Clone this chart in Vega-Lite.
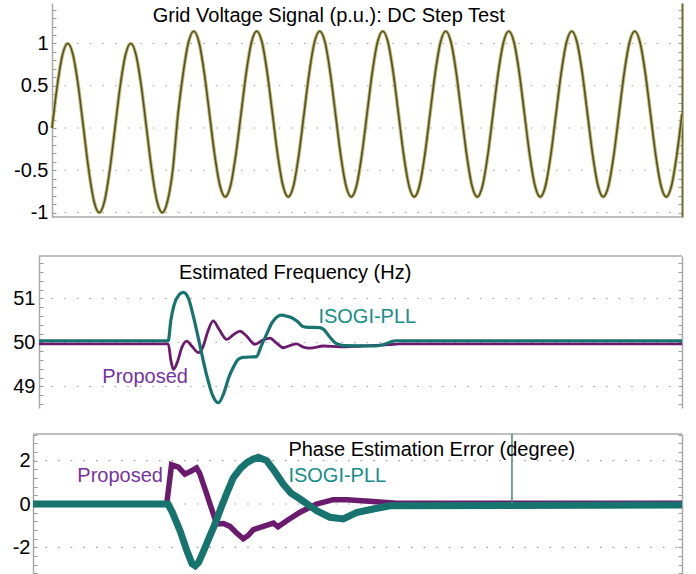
{
  "$schema": "https://vega.github.io/schema/vega-lite/v6.json",
  "padding": {"left": 12, "top": 3, "right": 4, "bottom": 0},
  "spacing": 23,
  "config": {
    "view": {"stroke": null},
    "axis": {"labelFont": "Liberation Sans", "labelFontSize": 20, "labelColor": "#000000", "labelOverlap": false, "labelFlush": false, "domainColor": "#a8a8a8", "domainWidth": 1.5, "tickColor": "#9a9a9a", "tickWidth": 1},
    "text": {"font": "Liberation Sans", "fontSize": 20}
  },
  "datasets": {
    "sine": [
      {"t":0,"v":0},{"t":1.67,"v":0.5},{"t":3.33,"v":0.866},{"t":5,"v":1},{"t":6.67,"v":0.866},{"t":8.33,"v":0.5},{"t":10,"v":0},{"t":11.67,"v":-0.5},{"t":13.33,"v":-0.866},{"t":15,"v":-1},{"t":16.67,"v":-0.866},{"t":18.33,"v":-0.5},
      {"t":20,"v":0},{"t":21.67,"v":0.5},{"t":23.33,"v":0.866},{"t":25,"v":1},{"t":26.67,"v":0.866},{"t":28.33,"v":0.5},{"t":30,"v":0},{"t":31.67,"v":-0.5},{"t":33.33,"v":-0.866},{"t":35,"v":-1},{"t":36.67,"v":-0.866},{"t":38.33,"v":-0.5},
      {"t":40,"v":0.165},{"t":41.67,"v":0.655},{"t":43.33,"v":1.014},{"t":45,"v":1.145},{"t":46.67,"v":1.014},{"t":48.33,"v":0.655},{"t":50,"v":0.165},{"t":51.67,"v":-0.325},{"t":53.33,"v":-0.684},{"t":55,"v":-0.815},{"t":56.67,"v":-0.684},{"t":58.33,"v":-0.325},
      {"t":60,"v":0.165},{"t":61.67,"v":0.655},{"t":63.33,"v":1.014},{"t":65,"v":1.145},{"t":66.67,"v":1.014},{"t":68.33,"v":0.655},{"t":70,"v":0.165},{"t":71.67,"v":-0.325},{"t":73.33,"v":-0.684},{"t":75,"v":-0.815},{"t":76.67,"v":-0.684},{"t":78.33,"v":-0.325},
      {"t":80,"v":0.165},{"t":81.67,"v":0.655},{"t":83.33,"v":1.014},{"t":85,"v":1.145},{"t":86.67,"v":1.014},{"t":88.33,"v":0.655},{"t":90,"v":0.165},{"t":91.67,"v":-0.325},{"t":93.33,"v":-0.684},{"t":95,"v":-0.815},{"t":96.67,"v":-0.684},{"t":98.33,"v":-0.325},
      {"t":100,"v":0.165},{"t":101.67,"v":0.655},{"t":103.33,"v":1.014},{"t":105,"v":1.145},{"t":106.67,"v":1.014},{"t":108.33,"v":0.655},{"t":110,"v":0.165},{"t":111.67,"v":-0.325},{"t":113.33,"v":-0.684},{"t":115,"v":-0.815},{"t":116.67,"v":-0.684},{"t":118.33,"v":-0.325},
      {"t":120,"v":0.165},{"t":121.67,"v":0.655},{"t":123.33,"v":1.014},{"t":125,"v":1.145},{"t":126.67,"v":1.014},{"t":128.33,"v":0.655},{"t":130,"v":0.165},{"t":131.67,"v":-0.325},{"t":133.33,"v":-0.684},{"t":135,"v":-0.815},{"t":136.67,"v":-0.684},{"t":138.33,"v":-0.325},
      {"t":140,"v":0.165},{"t":141.67,"v":0.655},{"t":143.33,"v":1.014},{"t":145,"v":1.145},{"t":146.67,"v":1.014},{"t":148.33,"v":0.655},{"t":150,"v":0.165},{"t":151.67,"v":-0.325},{"t":153.33,"v":-0.684},{"t":155,"v":-0.815},{"t":156.67,"v":-0.684},{"t":158.33,"v":-0.325},
      {"t":160,"v":0.165},{"t":161.67,"v":0.655},{"t":163.33,"v":1.014},{"t":165,"v":1.145},{"t":166.67,"v":1.014},{"t":168.33,"v":0.655},{"t":170,"v":0.165},{"t":171.67,"v":-0.325},{"t":173.33,"v":-0.684},{"t":175,"v":-0.815},{"t":176.67,"v":-0.684},{"t":178.33,"v":-0.325},
      {"t":180,"v":0.165},{"t":181.67,"v":0.655},{"t":183.33,"v":1.014},{"t":185,"v":1.145},{"t":186.67,"v":1.014},{"t":188.33,"v":0.655},{"t":190,"v":0.165},{"t":191.67,"v":-0.325},{"t":193.33,"v":-0.684},{"t":195,"v":-0.815},{"t":196.67,"v":-0.684},{"t":198.33,"v":-0.325},
      {"t":200,"v":0.165}
    ],
    "freq_isogi": [
      {"t":0,"v":50.04},{"t":40.2,"v":50.04},{"t":41,"v":50.5},{"t":42,"v":50.85},{"t":43.5,"v":51.08},{"t":44.9,"v":51.14},{"t":46.5,"v":51.0},{"t":48,"v":50.6},{"t":50,"v":49.95},{"t":52,"v":49.3},{"t":54,"v":48.8},{"t":55.8,"v":48.63},{"t":57.5,"v":48.85},{"t":59,"v":49.2},{"t":60.4,"v":49.43},{"t":62,"v":49.62},{"t":63.5,"v":49.66},{"t":67.7,"v":49.68},{"t":69,"v":49.9},{"t":70.8,"v":50.19},{"t":72.5,"v":50.45},{"t":74,"v":50.58},{"t":75.5,"v":50.62},{"t":77,"v":50.6},{"t":79,"v":50.55},{"t":80.5,"v":50.47},{"t":81.7,"v":50.38},{"t":83,"v":50.35},{"t":87.4,"v":50.34},{"t":88.5,"v":50.3},{"t":90.5,"v":50.12},{"t":92.6,"v":49.97},{"t":95,"v":49.93},{"t":104,"v":49.92},{"t":107,"v":49.95},{"t":109,"v":50.0},{"t":111,"v":50.04},{"t":200,"v":50.04}
    ],
    "freq_prop": [
      {"t":0,"v":49.97},{"t":40.2,"v":49.97},{"t":41,"v":49.6},{"t":41.8,"v":49.39},{"t":43,"v":49.55},{"t":44.5,"v":49.9},{"t":45.9,"v":50.03},{"t":47.5,"v":49.92},{"t":49.6,"v":49.77},{"t":51,"v":49.9},{"t":52.5,"v":50.25},{"t":54.2,"v":50.49},{"t":56,"v":50.3},{"t":58.4,"v":50.07},{"t":60.5,"v":50.18},{"t":62.5,"v":50.26},{"t":64.5,"v":50.15},{"t":67.2,"v":49.96},{"t":69.5,"v":50.05},{"t":71.8,"v":50.1},{"t":74,"v":49.98},{"t":76,"v":49.88},{"t":78,"v":49.93},{"t":80.1,"v":49.97},{"t":82,"v":49.9},{"t":84.3,"v":49.87},{"t":88.5,"v":49.92},{"t":93.6,"v":49.9},{"t":100,"v":49.92},{"t":109,"v":49.95},{"t":112,"v":49.97},{"t":200,"v":49.97}
    ],
    "phase_isogi": [
      {"t":0,"v":0},{"t":41.6,"v":0},{"t":43,"v":-0.4},{"t":45.3,"v":-1.23},{"t":47.4,"v":-2.15},{"t":49,"v":-2.75},{"t":50,"v":-2.85},{"t":51,"v":-2.7},{"t":52.5,"v":-2.2},{"t":54,"v":-1.65},{"t":56.1,"v":-0.92},{"t":58,"v":-0.15},{"t":60,"v":0.6},{"t":61.7,"v":1.2},{"t":64,"v":1.65},{"t":66,"v":1.92},{"t":67.9,"v":2.07},{"t":69.4,"v":2.15},{"t":72,"v":2.0},{"t":74.5,"v":1.5},{"t":77.1,"v":0.92},{"t":79.5,"v":0.5},{"t":82.3,"v":0.23},{"t":85,"v":-0.05},{"t":87.4,"v":-0.31},{"t":91.5,"v":-0.61},{"t":95.6,"v":-0.69},{"t":99.7,"v":-0.4},{"t":104.8,"v":-0.23},{"t":110,"v":-0.08},{"t":200,"v":-0.05}
    ],
    "phase_prop": [
      {"t":0,"v":0},{"t":41.2,"v":0},{"t":42.7,"v":1.81},{"t":44.8,"v":1.7},{"t":46.8,"v":1.38},{"t":48.5,"v":1.5},{"t":50.4,"v":1.66},{"t":51.4,"v":1.4},{"t":53,"v":0.7},{"t":55,"v":-0.2},{"t":56.6,"v":-0.92},{"t":58.7,"v":-0.9},{"t":60.7,"v":-1.03},{"t":62.5,"v":-1.3},{"t":64.8,"v":-1.6},{"t":66.3,"v":-1.45},{"t":67.9,"v":-1.18},{"t":71,"v":-1.03},{"t":74.1,"v":-0.88},{"t":75.5,"v":-1.05},{"t":78.2,"v":-0.77},{"t":82.3,"v":-0.38},{"t":87.4,"v":0.0},{"t":92.5,"v":0.2},{"t":96.7,"v":0.2},{"t":104.8,"v":0.12},{"t":112,"v":0.03},{"t":200,"v":0.03}
    ]
  },
  "vconcat": [
    {
      "width": 649, "height": 214,
      "resolve": {"axis": {"y": "independent"}},
      "layer": [
        {
          "data": {"values": [{"g": -1}, {"g": -0.5}, {"g": 0}, {"g": 0.5}, {"g": 1}]},
          "mark": {"type": "rule", "color": "#9a9a9a", "strokeWidth": 1.2, "strokeDash": [1.5, 11.1]},
          "encoding": {
            "x": {"datum": 0, "type": "quantitative", "scale": {"domain": [-6.03, 200], "nice": false, "zero": false},
                  "axis": {"title": null, "values": [20, 40, 60, 80, 100, 120, 140, 160, 180], "labels": false, "domain": false, "ticks": false, "grid": true, "gridColor": "#9a9a9a", "gridDash": [1.5, 11.1], "gridWidth": 1.2}},
            "x2": {"datum": 200},
            "y": {"field": "g", "type": "quantitative", "scale": {"domain": [-1.053, 1.479], "nice": false, "zero": false},
                  "axis": {"title": null, "orient": "left", "offset": -19, "grid": false, "values": [-1, -0.9, -0.8, -0.7, -0.6, -0.5, -0.4, -0.3, -0.2, -0.1, 0, 0.1, 0.2, 0.3, 0.4, 0.5, 0.6, 0.7, 0.8, 0.9, 1, 1.1, 1.2, 1.3, 1.4],
                           "labelExpr": "datum.value == -1 || datum.value == -0.5 || datum.value == 0 || datum.value == 0.5 || datum.value == 1 ? toString(datum.value) : ''",
                           "labelFontSize": {"condition": {"test": "datum.value == -1 || datum.value == -0.5 || datum.value == 0 || datum.value == 0.5 || datum.value == 1", "value": 20}, "value": 0},
                           "tickSize": -4, "labelPadding": 8}}
          }
        },
        {
          "data": {"values": [{}]},
          "mark": {"type": "rule", "color": "#a8a8a8", "strokeWidth": 1.5},
          "encoding": {
            "x": {"datum": 0, "type": "quantitative", "scale": {"domain": [-6.03, 200], "nice": false, "zero": false}, "axis": null},
            "x2": {"datum": 200},
            "y": {"datum": -1.053, "type": "quantitative", "scale": {"domain": [-1.053, 1.479], "nice": false, "zero": false},
                  "axis": {"title": null, "orient": "right", "labels": false, "grid": false, "values": [-1, -0.9, -0.8, -0.7, -0.6, -0.5, -0.4, -0.3, -0.2, -0.1, 0, 0.1, 0.2, 0.3, 0.4, 0.5, 0.6, 0.7, 0.8, 0.9, 1, 1.1, 1.2, 1.3, 1.4],
                           "tickSize": -4, "domainColor": "#6b6b2a", "domainWidth": 2}}
          }
        },
        {
          "data": {"name": "sine"},
          "mark": {"type": "line", "interpolate": "monotone", "color": "#bdb985", "strokeWidth": 3.6},
          "encoding": {
            "x": {"field": "t", "type": "quantitative", "scale": {"domain": [-6.03, 200], "nice": false, "zero": false}, "axis": null},
            "y": {"field": "v", "type": "quantitative", "scale": {"domain": [-1.053, 1.479], "nice": false, "zero": false}, "axis": null}
          }
        },
        {
          "data": {"name": "sine"},
          "mark": {"type": "line", "interpolate": "monotone", "color": "#545312", "strokeWidth": 1.6},
          "encoding": {
            "x": {"field": "t", "type": "quantitative", "scale": {"domain": [-6.03, 200], "nice": false, "zero": false}, "axis": null},
            "y": {"field": "v", "type": "quantitative", "scale": {"domain": [-1.053, 1.479], "nice": false, "zero": false}, "axis": null}
          }
        },
        {
          "data": {"values": [{}]},
          "mark": {"type": "text", "text": "Grid Voltage Signal (p.u.): DC Step Test", "align": "left", "baseline": "alphabetic", "color": "#000000", "fontSize": 20},
          "encoding": {
            "x": {"datum": 31.97, "type": "quantitative", "scale": {"domain": [-6.03, 200], "nice": false, "zero": false}, "axis": null},
            "y": {"datum": 1.26, "type": "quantitative", "scale": {"domain": [-1.053, 1.479], "nice": false, "zero": false}, "axis": null}
          }
        },
        {
          "data": {"values": [{}]},
          "mark": {"type": "text", "text": "", "align": "left", "baseline": "top", "fontSize": 15},
          "encoding": {
            "x": {"datum": 100, "type": "quantitative", "scale": {"domain": [-6.03, 200], "nice": false, "zero": false}, "axis": null},
            "y": {"datum": -1.053, "type": "quantitative", "scale": {"domain": [-1.053, 1.479], "nice": false, "zero": false}, "axis": null}
          }
        }
      ]
    },
    {
      "width": 649, "height": 152,
      "resolve": {"axis": {"y": "independent"}},
      "layer": [
        {
          "data": {"values": [{"g": 49}, {"g": 50}, {"g": 51}]},
          "mark": {"type": "rule", "color": "#9a9a9a", "strokeWidth": 1.2, "strokeDash": [1.5, 11.1]},
          "encoding": {
            "x": {"datum": 0, "type": "quantitative", "scale": {"domain": [-1.87, 200], "nice": false, "zero": false},
                  "axis": {"title": null, "values": [20, 40, 60, 80, 100, 120, 140, 160, 180], "labels": false, "domain": false, "ticks": false, "grid": true, "gridColor": "#9a9a9a", "gridDash": [1.5, 11.1], "gridWidth": 1.2}},
            "x2": {"datum": 200},
            "y": {"field": "g", "type": "quantitative", "scale": {"domain": [48.511, 51.966], "nice": false, "zero": false},
                  "axis": {"title": null, "orient": "left", "offset": -6, "grid": false, "values": [48.6, 48.8, 49, 49.2, 49.4, 49.6, 49.8, 50, 50.2, 50.4, 50.6, 50.8, 51, 51.2, 51.4, 51.6, 51.8],
                           "labelExpr": "datum.value == 49 || datum.value == 50 || datum.value == 51 ? toString(datum.value) : ''",
                           "labelFontSize": {"condition": {"test": "datum.value == 49 || datum.value == 50 || datum.value == 51", "value": 20}, "value": 0},
                           "tickSize": -4, "labelPadding": 8}}
          }
        },
        {
          "data": {"values": [{}]},
          "mark": {"type": "rule", "color": "#a8a8a8", "strokeWidth": 1.5},
          "encoding": {
            "x": {"datum": 0, "type": "quantitative", "scale": {"domain": [-1.87, 200], "nice": false, "zero": false}, "axis": null},
            "x2": {"datum": 200},
            "y": {"datum": 51.966, "type": "quantitative", "scale": {"domain": [48.511, 51.966], "nice": false, "zero": false},
                  "axis": {"title": null, "orient": "right", "labels": false, "grid": false, "values": [48.6, 48.8, 49, 49.2, 49.4, 49.6, 49.8, 50, 50.2, 50.4, 50.6, 50.8, 51, 51.2, 51.4, 51.6, 51.8],
                           "tickSize": -4}}
          }
        },
        {
          "data": {"name": "freq_prop"},
          "mark": {"type": "line", "interpolate": "monotone", "color": "#6a1b6e", "strokeWidth": 2.8},
          "encoding": {
            "x": {"field": "t", "type": "quantitative", "scale": {"domain": [-1.87, 200], "nice": false, "zero": false}, "axis": null},
            "y": {"field": "v", "type": "quantitative", "scale": {"domain": [48.511, 51.966], "nice": false, "zero": false}, "axis": null}
          }
        },
        {
          "data": {"name": "freq_isogi"},
          "mark": {"type": "line", "interpolate": "monotone", "color": "#17736e", "strokeWidth": 3.2},
          "encoding": {
            "x": {"field": "t", "type": "quantitative", "scale": {"domain": [-1.87, 200], "nice": false, "zero": false}, "axis": null},
            "y": {"field": "v", "type": "quantitative", "scale": {"domain": [48.511, 51.966], "nice": false, "zero": false}, "axis": null}
          }
        },
        {
          "data": {"values": [{}]},
          "mark": {"type": "text", "text": "Estimated Frequency (Hz)", "align": "left", "baseline": "alphabetic", "color": "#000000", "fontSize": 20},
          "encoding": {
            "x": {"datum": 43.55, "type": "quantitative", "scale": {"domain": [-1.87, 200], "nice": false, "zero": false}, "axis": null},
            "y": {"datum": 51.436, "type": "quantitative", "scale": {"domain": [48.511, 51.966], "nice": false, "zero": false}, "axis": null}
          }
        },
        {
          "data": {"values": [{}]},
          "mark": {"type": "text", "text": "ISOGI-PLL", "align": "left", "baseline": "alphabetic", "color": "#168d89", "fontSize": 20},
          "encoding": {
            "x": {"datum": 86.9, "type": "quantitative", "scale": {"domain": [-1.87, 200], "nice": false, "zero": false}, "axis": null},
            "y": {"datum": 50.45, "type": "quantitative", "scale": {"domain": [48.511, 51.966], "nice": false, "zero": false}, "axis": null}
          }
        },
        {
          "data": {"values": [{}]},
          "mark": {"type": "text", "text": "Proposed", "align": "left", "baseline": "alphabetic", "color": "#7732a0", "fontSize": 20},
          "encoding": {
            "x": {"datum": 19.7, "type": "quantitative", "scale": {"domain": [-1.87, 200], "nice": false, "zero": false}, "axis": null},
            "y": {"datum": 49.086, "type": "quantitative", "scale": {"domain": [48.511, 51.966], "nice": false, "zero": false}, "axis": null}
          }
        }
      ]
    },
    {
      "width": 649, "height": 144,
      "resolve": {"axis": {"y": "independent"}},
      "layer": [
        {
          "data": {"values": [{"g": -2}, {"g": 0}, {"g": 2}]},
          "mark": {"type": "rule", "color": "#9a9a9a", "strokeWidth": 1.2, "strokeDash": [1.5, 11.1]},
          "encoding": {
            "x": {"datum": 0, "type": "quantitative", "scale": {"domain": [0, 200], "nice": false, "zero": false},
                  "axis": {"title": null, "values": [20, 40, 60, 80, 100, 120, 140, 160, 180], "labels": false, "domain": false, "ticks": false, "grid": true, "gridColor": "#9a9a9a", "gridDash": [1.5, 11.1], "gridWidth": 1.2}},
            "x2": {"datum": 200},
            "y": {"field": "g", "type": "quantitative", "scale": {"domain": [-3.41, 3.226], "nice": false, "zero": false},
                  "axis": {"title": null, "orient": "left", "grid": false, "values": [-3.2, -2.8, -2.4, -2, -1.6, -1.2, -0.8, -0.4, 0, 0.4, 0.8, 1.2, 1.6, 2, 2.4, 2.8, 3.2],
                           "labelExpr": "datum.value == -2 || datum.value == 0 || datum.value == 2 ? toString(datum.value) : ''",
                           "labelFontSize": {"condition": {"test": "datum.value == -2 || datum.value == 0 || datum.value == 2", "value": 20}, "value": 0},
                           "tickSize": -4, "labelPadding": 7}}
          }
        },
        {
          "data": {"values": [{}]},
          "mark": {"type": "rule", "color": "#a8a8a8", "strokeWidth": 1.5},
          "encoding": {
            "x": {"datum": 0, "type": "quantitative", "scale": {"domain": [0, 200], "nice": false, "zero": false}, "axis": null},
            "x2": {"datum": 200},
            "y": {"datum": 3.226, "type": "quantitative", "scale": {"domain": [-3.41, 3.226], "nice": false, "zero": false},
                  "axis": {"title": null, "orient": "right", "labels": false, "grid": false, "values": [-3.2, -2.8, -2.4, -2, -1.6, -1.2, -0.8, -0.4, 0, 0.4, 0.8, 1.2, 1.6, 2, 2.4, 2.8, 3.2],
                           "tickSize": -4}}
          }
        },
        {
          "data": {"name": "phase_prop"},
          "mark": {"type": "line", "color": "#6a1b6e", "strokeWidth": 5.5},
          "encoding": {
            "x": {"field": "t", "type": "quantitative", "scale": {"domain": [0, 200], "nice": false, "zero": false}, "axis": null},
            "y": {"field": "v", "type": "quantitative", "scale": {"domain": [-3.41, 3.226], "nice": false, "zero": false}, "axis": null}
          }
        },
        {
          "data": {"name": "phase_isogi"},
          "mark": {"type": "line", "color": "#17736e", "strokeWidth": 7},
          "encoding": {
            "x": {"field": "t", "type": "quantitative", "scale": {"domain": [0, 200], "nice": false, "zero": false}, "axis": null},
            "y": {"field": "v", "type": "quantitative", "scale": {"domain": [-3.41, 3.226], "nice": false, "zero": false}, "axis": null}
          }
        },
        {
          "data": {"values": [{}]},
          "mark": {"type": "rule", "color": "#4a827e", "strokeWidth": 1.5},
          "encoding": {
            "x": {"datum": 147.6, "type": "quantitative", "scale": {"domain": [0, 200], "nice": false, "zero": false}, "axis": null},
            "y": {"datum": 0, "type": "quantitative", "scale": {"domain": [-3.41, 3.226], "nice": false, "zero": false}, "axis": null},
            "y2": {"datum": 3.226}
          }
        },
        {
          "data": {"values": [{}]},
          "mark": {"type": "text", "text": "Phase Estimation Error (degree)", "align": "left", "baseline": "alphabetic", "color": "#000000", "fontSize": 20},
          "encoding": {
            "x": {"datum": 78.7, "type": "quantitative", "scale": {"domain": [0, 200], "nice": false, "zero": false}, "axis": null},
            "y": {"datum": 2.226, "type": "quantitative", "scale": {"domain": [-3.41, 3.226], "nice": false, "zero": false}, "axis": null}
          }
        },
        {
          "data": {"values": [{}]},
          "mark": {"type": "text", "text": "Proposed", "align": "left", "baseline": "alphabetic", "color": "#7732a0", "fontSize": 20},
          "encoding": {
            "x": {"datum": 13.65, "type": "quantitative", "scale": {"domain": [0, 200], "nice": false, "zero": false}, "axis": null},
            "y": {"datum": 1.0, "type": "quantitative", "scale": {"domain": [-3.41, 3.226], "nice": false, "zero": false}, "axis": null}
          }
        },
        {
          "data": {"values": [{}]},
          "mark": {"type": "text", "text": "ISOGI-PLL", "align": "left", "baseline": "alphabetic", "color": "#168d89", "fontSize": 20},
          "encoding": {
            "x": {"datum": 78.7, "type": "quantitative", "scale": {"domain": [0, 200], "nice": false, "zero": false}, "axis": null},
            "y": {"datum": 1.0, "type": "quantitative", "scale": {"domain": [-3.41, 3.226], "nice": false, "zero": false}, "axis": null}
          }
        }
      ]
    }
  ]
}
